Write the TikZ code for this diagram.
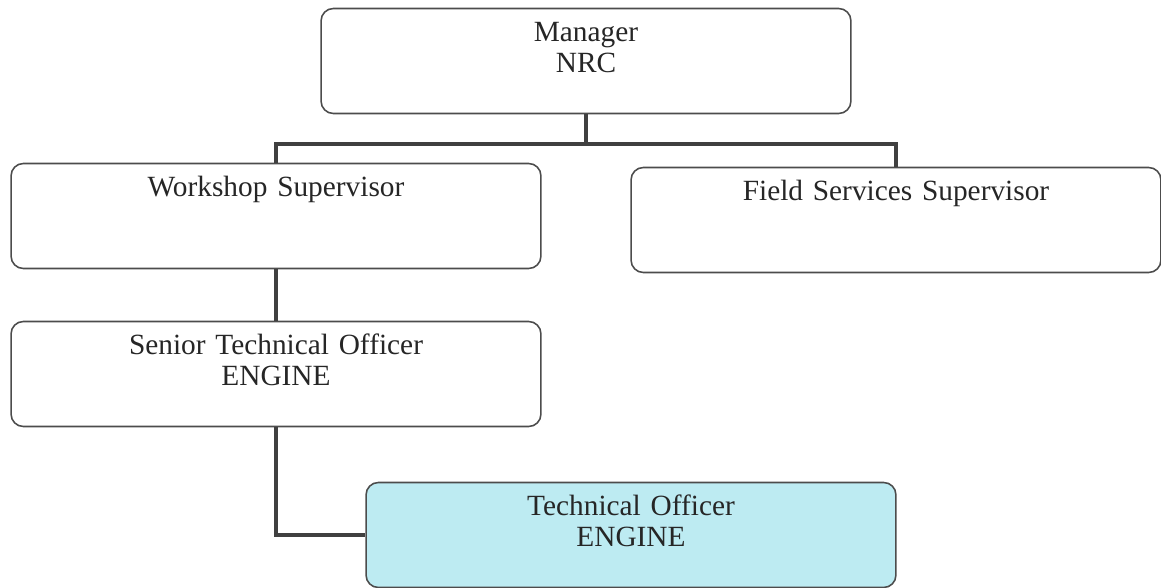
\documentclass[tikz,border=0pt]{standalone}
\usepackage{fontspec}
\setmainfont{Liberation Serif}[Ligatures=TeX]
\usepackage{tikz}
\usetikzlibrary{positioning}
\definecolor{postfill}{RGB}{189,235,242}
\definecolor{linkgray}{RGB}{64,64,64}

\begin{document}
\begin{tikzpicture}[x=0.02cm, y=-0.02cm,
        post/.style={draw=black!70, line width=0.9pt, rounded corners=7pt, fill=white,
                text width=10.6cm, align=center, inner xsep=0pt, inner ysep=0pt,
                text height=0.66cm, text depth=1.44cm, text=black!85,
                font=\rmfamily\fontsize{16.7pt}{17.6pt}\selectfont},
        link/.style={draw=linkgray, line width=2.6pt, line join=miter}]
        \useasboundingbox (0,0) rectangle (1161,588);
        \coordinate (bus) at (586,144);
        \node[post] (mgr) at (586,61) {Manager\\NRC};
        \node[post] (ws) at (276,216) {Workshop Supervisor};
        \node[post] (fs) at (896,220) {Field Services Supervisor};
        \node[post] (sto) at (276,374) {Senior Technical Officer\\ENGINE};
        \node[post, fill=postfill] (to) at (631,535) {Technical Officer\\ENGINE};
        \draw[link] (mgr.south)--(bus);
        \draw[link] (ws.north)--(ws.north |- bus)--(fs.north |- bus)--(fs.north);
        \draw[link] (ws.south)--(sto.north);
        \draw[link] (sto.south) |- (to.west);
    \end{tikzpicture}
\end{document}
